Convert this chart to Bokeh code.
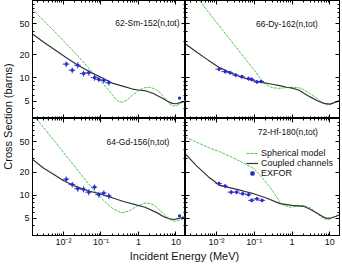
import math
from bokeh.plotting import figure
from bokeh.models import (LogAxis, FixedTicker, Label, Legend, LegendItem, Range1d,
                          BasicTickFormatter, ColumnDataSource, CustomLabelingPolicy)
from bokeh.layouts import row, column
from bokeh.embed import file_html
from bokeh.resources import INLINE

# ---------------- data ----------------
E_MIN, E_MAX = 0.0015, 18
S_MIN, S_MAX = 3, 100

x_major = [0.01, 0.1, 1, 10]
x_tick_labels = {0.01: "10\u207b\u00b2", 0.1: "10\u207b\u00b9", 1: "1", 10: "10"}
y_major = [5, 10, 20, 50]
y_minor = [3, 4, 6, 7, 8, 9, 30, 40, 60, 70, 80, 90]

# 62-Sm-152
sm_sph_E = [0.0015, 0.003, 0.006, 0.012, 0.025, 0.05, 0.1, 0.15, 0.2, 0.25, 0.31, 0.38, 0.5, 0.7, 1.0, 1.5, 2.0, 2.8, 4.0, 5.5, 7.0, 8.5, 10.5, 13, 18]
sm_sph_S = [77, 55, 39, 27.5, 19, 13, 9.0, 7.3, 6.1, 5.3, 4.9, 4.9, 5.2, 6.0, 6.9, 7.5, 7.6, 7.2, 6.3, 5.2, 4.6, 4.35, 4.4, 4.7, 5.2]
sm_cc_E = [0.0015, 0.003, 0.006, 0.012, 0.025, 0.05, 0.1, 0.2, 0.4, 0.7, 1.0, 1.6, 2.5, 4, 6, 8, 10, 13, 18]
sm_cc_S = [37, 29, 23, 18.3, 14.5, 12, 10.2, 8.6, 7.8, 7.2, 7.0, 6.8, 6.3, 5.6, 5.0, 4.7, 4.65, 4.8, 5.0]
sm_exp_E = [0.0119, 0.0172, 0.0242, 0.0344, 0.0476, 0.0675, 0.088, 0.119, 0.163, 12.5]
sm_exp_S = [15.1, 12.6, 14.6, 11.4, 11.7, 10.1, 9.6, 9.3, 8.7, 5.5]
sm_exp_dS = [1.3, 1.1, 1.3, 1.0, 1.0, 0.9, 0.8, 0.8, 0.7, 0.1]
sm_exp_dE = [0.2, 0.2, 0.2, 0.2, 0.2, 0.2, 0.2, 0.2, 0.2, 0.02]

# 66-Dy-162
dy_sph_E = [0.0035, 0.007, 0.015, 0.03, 0.06, 0.1, 0.15, 0.18, 0.22, 0.3, 0.45, 0.7, 1.1, 1.5, 2.0, 3.0, 4.5, 6.0, 8.4, 11, 14, 18]
dy_sph_S = [100, 65, 40.5, 26.4, 17.2, 12.5, 9.6, 8.7, 8.0, 7.5, 7.35, 7.5, 7.6, 7.5, 7.1, 6.3, 5.5, 4.9, 4.5, 4.6, 4.9, 5.0]
dy_cc_E = [0.0015, 0.003, 0.006, 0.012, 0.025, 0.05, 0.1, 0.17, 0.3, 0.5, 0.72, 1.0, 1.5, 2.0, 3, 5, 7, 10, 13, 18]
dy_cc_S = [27.5, 21.5, 17, 13.6, 11.5, 10.1, 9.2, 8.7, 8.3, 7.9, 7.6, 7.4, 7.0, 6.4, 5.7, 5.0, 4.7, 4.6, 4.8, 5.1]
dy_exp_E = [0.0116, 0.0168, 0.0228, 0.032, 0.0466, 0.07, 0.085, 0.117, 0.15]
dy_exp_S = [13.0, 12.1, 11.7, 10.9, 10.4, 9.8, 9.6, 8.9, 9.0]
dy_exp_dS = [0.8, 0.8, 0.7, 0.7, 0.6, 0.6, 0.6, 0.5, 0.5]
dy_exp_dE = [0.2, 0.2, 0.2, 0.2, 0.2, 0.2, 0.2, 0.2, 0.2]

# 64-Gd-156
gd_sph_E = [0.0019, 0.004, 0.008, 0.015, 0.03, 0.05, 0.075, 0.12, 0.2, 0.35, 0.55, 0.9, 1.6, 2.5, 4, 6, 8, 10, 13, 18]
gd_sph_S = [100, 63.5, 41.6, 28.3, 18.6, 13.6, 10.8, 8.5, 6.8, 5.9, 6.2, 7.2, 8.0, 7.6, 6.2, 5.1, 4.65, 4.6, 4.8, 5.1]
gd_cc_E = [0.0015, 0.003, 0.006, 0.0096, 0.02, 0.05, 0.092, 0.2, 0.4, 0.87, 1.5, 3.0, 5, 6.8, 9, 12, 18]
gd_cc_S = [29.4, 22.5, 18.3, 15.7, 13.2, 11.3, 10.5, 9.3, 8.3, 7.5, 7.0, 6.0, 5.2, 4.95, 4.85, 5.0, 5.3]
gd_exp_E = [0.0119, 0.0172, 0.0242, 0.0344, 0.0476, 0.0675, 0.088, 0.119, 0.163, 12.5]
gd_exp_S = [16.2, 13.8, 12.2, 12.0, 11.0, 12.8, 10.2, 10.7, 9.8, 5.4]
gd_exp_dS = [1.4, 1.2, 1.1, 1.1, 1.0, 1.1, 0.9, 0.9, 0.9, 0.1]
gd_exp_dE = [0.2, 0.2, 0.2, 0.2, 0.2, 0.2, 0.2, 0.2, 0.2, 0.02]

# 72-Hf-180
hf_sph_E = [0.0015, 0.003, 0.006, 0.012, 0.025, 0.05, 0.095, 0.15, 0.26, 0.35, 0.48, 0.6, 0.9, 1.3, 2.0, 3.0, 5, 6.9, 9, 12, 18]
hf_sph_S = [57, 49, 42, 37, 31.5, 26.5, 22.4, 17.6, 12.8, 10.3, 8.1, 7.4, 7.0, 7.2, 7.4, 6.9, 5.6, 5.0, 4.8, 5.1, 5.6]
hf_cc_E = [0.0015, 0.003, 0.006, 0.012, 0.025, 0.05, 0.095, 0.2, 0.48, 1.0, 2.0, 3.0, 5, 6.9, 8.5, 11, 14, 18]
hf_cc_S = [34.4, 24, 17.5, 13.5, 12.4, 11.4, 10.5, 9.3, 7.8, 7.4, 7.2, 6.6, 5.7, 5.2, 5.0, 5.1, 5.3, 5.6]
hf_exp_E = [0.0116, 0.0168, 0.0243, 0.034, 0.049, 0.07, 0.085, 0.117, 0.16]
hf_exp_S = [14.2, 13.2, 11.0, 11.0, 10.5, 10.2, 8.6, 9.0, 8.6]
hf_exp_dS = [0.9, 0.8, 0.7, 0.7, 0.6, 0.6, 0.5, 0.5, 0.5]
hf_exp_dE = [0.2, 0.2, 0.2, 0.2, 0.2, 0.2, 0.2, 0.2, 0.2]

# ---------------- styling ----------------
FONT = "Liberation Sans"
GREEN = "#4ccc4c"
BLACK = "#333333"
BLUE = "#2a2ad0"
x_minor = [k * 10.0 ** d for d in range(-3, 2) for k in range(2, 10)]


def style_axis(ax, ticks, minor, labelled, overrides=None, standoff=2):
    ax.ticker = FixedTicker(ticks=ticks, minor_ticks=minor)
    ax.formatter = BasicTickFormatter()
    ax.major_tick_in = 4
    ax.major_tick_out = 0
    ax.minor_tick_in = 2
    ax.minor_tick_out = 0
    ax.axis_line_color = "black"
    ax.major_tick_line_color = "black"
    ax.minor_tick_line_color = "black"
    if labelled:
        ax.major_label_text_font = FONT
        ax.major_label_text_font_size = "9px"
        ax.major_label_text_color = "#111111"
        ax.major_label_standoff = standoff
        if overrides:
            ax.major_label_overrides = overrides
    else:
        ax.major_label_policy = CustomLabelingPolicy(code="return new Set()")
        ax.major_label_text_font_size = "0px"
        ax.major_label_standoff = 0


def make_panel(title, sphE, sphS, ccE, ccS, exE, exS, exdS, exdE, fw, fh,
               left_lab, bottom_lab, mb_left, mb_bottom, mb_right, tx, ty):
    p = figure(x_axis_type="log", y_axis_type="log",
               x_range=Range1d(E_MIN, E_MAX), y_range=Range1d(S_MIN, S_MAX),
               frame_width=fw, frame_height=fh,
               min_border_left=mb_left, min_border_right=mb_right,
               min_border_top=0, min_border_bottom=mb_bottom,
               toolbar_location=None, output_backend="svg")
    p.grid.visible = False
    p.outline_line_color = "black"
    p.background_fill_color = "white"
    p.border_fill_color = "white"

    style_axis(p.below[0], x_major, x_minor, bottom_lab, x_tick_labels, 1)
    style_axis(p.left[0], y_major, y_minor, left_lab, None, 3)
    top = LogAxis()
    p.add_layout(top, "above")
    style_axis(top, x_major, x_minor, False)
    right = LogAxis()
    p.add_layout(right, "right")
    style_axis(right, y_major, y_minor, False)

    g = p.line(sphE, sphS, line_color=GREEN, line_width=1, line_dash="3 1")
    b = p.line(ccE, ccS, line_color=BLACK, line_width=1.2)

    src = ColumnDataSource(dict(
        E=exE, S=exS,
        Elo=[e * (1 - d) for e, d in zip(exE, exdE)],
        Ehi=[e * (1 + d) for e, d in zip(exE, exdE)],
        Slo=[s - d for s, d in zip(exS, exdS)],
        Shi=[s + d for s, d in zip(exS, exdS)],
    ))
    p.segment(x0="Elo", y0="S", x1="Ehi", y1="S", source=src, line_color=BLUE, line_width=0.9)
    p.segment(x0="E", y0="Slo", x1="E", y1="Shi", source=src, line_color=BLUE, line_width=0.9)
    m = p.scatter(x="E", y="S", source=src, marker="square", size=2, color=BLUE)

    # panel title, anchored in data coordinates
    p.add_layout(Label(x=tx, y=ty, text=title,
                       text_align="right", text_baseline="middle",
                       text_font=FONT, text_font_size="8.5px", text_color="#111111"))
    return p, g, b, m


tl, _, _, _ = make_panel("62-Sm-152(n,tot)", sm_sph_E, sm_sph_S, sm_cc_E, sm_cc_S,
                         sm_exp_E, sm_exp_S, sm_exp_dS, sm_exp_dE, 153, 118,
                         True, False, 12, 0, 0, 12.5, 52)
tr, _, _, _ = make_panel("66-Dy-162(n,tot)", dy_sph_E, dy_sph_S, dy_cc_E, dy_cc_S,
                         dy_exp_E, dy_exp_S, dy_exp_dS, dy_exp_dE, 154, 118,
                         False, False, 0, 0, 2, 4.8, 50)
bl, _, _, _ = make_panel("64-Gd-156(n,tot)", gd_sph_E, gd_sph_S, gd_cc_E, gd_cc_S,
                         gd_exp_E, gd_exp_S, gd_exp_dS, gd_exp_dE, 153, 117,
                         True, True, 12, 12, 0, 6.7, 49)
br, g, b, m = make_panel("72-Hf-180(n,tot)", hf_sph_E, hf_sph_S, hf_cc_E, hf_cc_S,
                         hf_exp_E, hf_exp_S, hf_exp_dS, hf_exp_dE, 154, 117,
                         False, True, 0, 12, 2, 4.8, 66)

legend = Legend(items=[LegendItem(label="Spherical model", renderers=[g]),
                       LegendItem(label="Coupled channels", renderers=[b]),
                       LegendItem(label="EXFOR", renderers=[m])],
                location=(61, 57), padding=0, margin=0, spacing=-4,
                glyph_width=12, glyph_height=8, label_height=8, label_standoff=3,
                label_text_font=FONT, label_text_font_size="9px",
                label_text_color="#111111",
                border_line_color=None, background_fill_alpha=0)
br.add_layout(legend)


def label_fig(w, h, text, x, y, angle):
    f = figure(width=w, height=h, toolbar_location=None, output_backend="svg",
               min_border=0, x_axis_location=None, y_axis_location=None,
               x_range=Range1d(0, 1), y_range=Range1d(0, 1))
    f.grid.visible = False
    f.outline_line_color = None
    f.add_layout(Label(x=x, y=y, x_units="screen", y_units="screen", text=text,
                       angle=angle, text_align="center", text_baseline="middle",
                       text_font=FONT, text_font_size="11px", text_color="#111111"))
    return f


ylab = label_fig(16, 265, "Cross Section (barns)", 7, 149, math.pi / 2)
xlab = label_fig(321, 18, "Incident Energy (MeV)", 168, 12, 0)

root = row(ylab, column(row(tl, tr), row(bl, br), xlab))

open("out.html", "w").write(file_html(root, INLINE))
